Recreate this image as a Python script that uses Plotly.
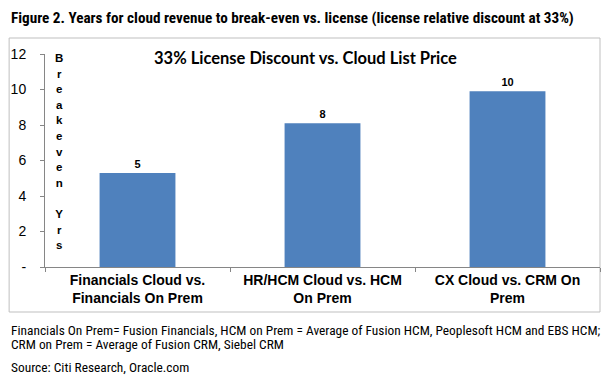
import plotly.graph_objects as go

categories = ["Financials Cloud vs.<br>Financials On Prem",
              "HR/HCM Cloud vs. HCM<br>On Prem",
              "CX Cloud vs. CRM On<br>Prem"]
breakeven_years = [5.3, 8.1, 9.9]
y_tickvals = [0, 2, 4, 6, 8, 10, 12]
y_ticktext = ["-", "2", "4", "6", "8", "10", "12"]

title_text = "Figure 2. Years for cloud revenue to break-even vs. license (license relative discount at 33%)"
chart_title = "33% License Discount vs. Cloud List Price"
axis_title_letters = list("Breakeven") + [" "] + list("Yrs")
footnote_line1 = "Financials On Prem= Fusion Financials, HCM on Prem = Average of Fusion HCM, Peoplesoft HCM and EBS HCM;"
footnote_line2 = "CRM on Prem = Average of Fusion CRM, Siebel CRM"
source_text = "Source: Citi Research, Oracle.com"

W, H = 611, 378
L, R, T, B = 43, 11, 54, 111
PW, PH = W - L - R, H - T - B

def px(x):
    return (x - L) / PW

def py(y):
    return (H - B - y) / PH

arial = "Liberation Sans, Arial, sans-serif"
narrow = "Roboto Condensed, Liberation Sans, sans-serif"

fig = go.Figure()
fig.add_trace(go.Bar(
    x=categories, y=breakeven_years,
    marker=dict(color="#4F81BD", line=dict(width=0)),
    text=breakeven_years, texttemplate="<b>%{y:.0f}</b>",
    textposition="outside", cliponaxis=False,
    textfont=dict(family=arial, size=11, color="#000000"),
))

fig.update_layout(
    width=W, height=H,
    margin=dict(l=L, r=R, t=T, b=B),
    paper_bgcolor="white", plot_bgcolor="white",
    showlegend=False, bargap=0.59,
    font=dict(family=arial, color="#000000"),
)
fig.update_xaxes(
    showline=True, linecolor="#868686", linewidth=1,
    ticks="outside", tickson="boundaries", ticklen=4, tickcolor="#868686",
    tickfont=dict(family=arial, size=14, color="#000000", weight="bold"),
    showgrid=False,
)
fig.update_yaxes(
    range=[0, 12], tickvals=y_tickvals, ticktext=y_ticktext,
    showline=True, linecolor="#868686", linewidth=1,
    ticks="outside", ticklen=4, tickcolor="#868686", ticklabelstandoff=11,
    tickfont=dict(family=arial, size=14, color="#000000"),
    showgrid=False, zeroline=False,
)

# outer chart frame
fig.add_shape(type="rect", xref="paper", yref="paper",
              x0=px(7), x1=px(600), y0=py(312), y1=py(38),
              line=dict(color="#BFBFBF", width=1), layer="below")

fig.add_annotation(xref="paper", yref="paper", x=px(7), y=py(18),
                   xanchor="left", yanchor="middle", showarrow=False,
                   text="<b>" + title_text + "</b>",
                   font=dict(family=narrow, size=15.2, color="#000000"))
fig.add_annotation(xref="paper", yref="paper", x=px(304), y=py(58),
                   xanchor="center", yanchor="middle", showarrow=False,
                   text="<b>" + chart_title + "</b>",
                   font=dict(family="Lato, Open Sans, sans-serif", size=16.5, color="#000000"))
fig.add_annotation(xref="paper", yref="paper", x=px(57), y=py(151),
                   xanchor="center", yanchor="middle", showarrow=False,
                   text="<br>".join("<span style='font-size:11.5px'><b>%s</b></span>" % c if c != " " else " " for c in axis_title_letters),
                   font=dict(family=arial, size=12, color="#000000"))
fig.add_annotation(xref="paper", yref="paper", x=px(7), y=py(330),
                   xanchor="left", yanchor="middle", showarrow=False,
                   text=footnote_line1,
                   font=dict(family=narrow, size=13.4, color="#000000"))
fig.add_annotation(xref="paper", yref="paper", x=px(7), y=py(344.5),
                   xanchor="left", yanchor="middle", showarrow=False,
                   text=footnote_line2,
                   font=dict(family=narrow, size=13.4, color="#000000"))
fig.add_annotation(xref="paper", yref="paper", x=px(7), y=py(367),
                   xanchor="left", yanchor="middle", showarrow=False,
                   text=source_text,
                   font=dict(family=narrow, size=13.4, color="#000000"))

fig.write_html("out.html", config={"displayModeBar": False},
               post_script="document.body.style.margin='0';")
